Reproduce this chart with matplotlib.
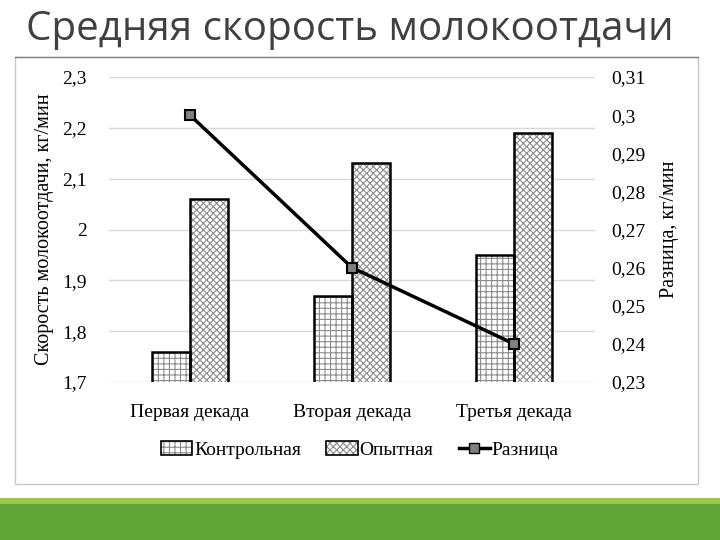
import matplotlib.pyplot as plt
from matplotlib.patches import Rectangle, Patch
from matplotlib.lines import Line2D
from matplotlib.ticker import FuncFormatter

categories = ['Первая декада', 'Вторая декада', 'Третья декада']
control = [1.76, 1.87, 1.95]
experimental = [2.06, 2.13, 2.19]
difference = [0.30, 0.26, 0.24]
left_ticks = [1.7, 1.8, 1.9, 2.0, 2.1, 2.2, 2.3]
right_ticks = [0.23, 0.24, 0.25, 0.26, 0.27, 0.28, 0.29, 0.30, 0.31]

serif = 'Liberation Serif'
plt.rcParams['hatch.linewidth'] = 0.8

fig = plt.figure(figsize=(7.2, 5.4), dpi=100)

# slide background pieces
fig.patches.append(Rectangle((15 / 720, 1 - 484 / 540), 683 / 720, 427 / 540,
                             transform=fig.transFigure, fill=False,
                             edgecolor='#c8c8c8', lw=1, zorder=0))
fig.add_artist(Line2D([15 / 720, 698 / 720], [1 - 57 / 540, 1 - 57 / 540],
                      transform=fig.transFigure, color='#7f7f7f', lw=1))
fig.patches.append(Rectangle((0, 1 - 504 / 540), 1, 6 / 540, transform=fig.transFigure,
                             facecolor='#9bc848', edgecolor='none'))
fig.patches.append(Rectangle((0, 0), 1, 36 / 540, transform=fig.transFigure,
                             facecolor='#62a537', edgecolor='none'))

fig.text(26 / 720, 1 - 30 / 540, 'Средняя скорость молокоотдачи', fontsize=29,
         family='Open Sans', color='#404040', va='center', ha='left')

ax = fig.add_axes([109 / 720, 1 - 382 / 540, 486 / 720, 305 / 540])
ax2 = ax.twinx()

x = range(len(categories))
w = 0.235
xc = [i - w / 2 for i in x]
xe = [i + w / 2 for i in x]

ax.bar(xc, control, w, color='white', edgecolor='#8c8c8c', hatch='+++', lw=0, zorder=2)
ax.bar(xc, control, w, fill=False, edgecolor='black', lw=1.8, zorder=3)
ax.bar(xe, experimental, w, color='white', edgecolor='#8c8c8c', hatch='xxxxx', lw=0, zorder=2)
ax.bar(xe, experimental, w, fill=False, edgecolor='black', lw=1.8, zorder=3)

ax2.plot(x, difference, color='black', lw=2.5, marker='s', markersize=7,
         markerfacecolor='#808080', markeredgecolor='black', markeredgewidth=1.5)

ax.set_xlim(-0.5, 2.5)
ax.set_ylim(1.7, 2.3)
ax2.set_ylim(0.23, 0.31)
ax.set_yticks(left_ticks)
ax2.set_yticks(right_ticks)

comma = FuncFormatter(lambda v, p: f'{v:.2f}'.rstrip('0').rstrip('.').replace('.', ','))
ax.yaxis.set_major_formatter(comma)
ax2.yaxis.set_major_formatter(comma)
ax.set_xticks(list(x))
ax.set_xticklabels(categories)

ax.grid(axis='y', color='#d9d9d9', lw=1, zorder=0)
ax.set_axisbelow(True)
for a in (ax, ax2):
    for s in a.spines.values():
        s.set_visible(False)
    a.tick_params(length=0, labelsize=14)
    for lbl in a.get_xticklabels() + a.get_yticklabels():
        lbl.set_family(serif)
ax.tick_params(axis='y', pad=16)
ax.tick_params(axis='x', pad=16)
ax2.tick_params(axis='y', pad=12)

ax.set_ylabel('Скорость молокоотдачи, кг/мин', family=serif, fontsize=14.5)
ax2.set_ylabel('Разница, кг/мин', family=serif, fontsize=14.5)
ax.yaxis.set_label_coords(-0.113, 0.5)
ax2.yaxis.set_label_coords(1.134, 0.5)

handles = [
    (Patch(facecolor='white', edgecolor='#8c8c8c', hatch='+++', lw=0),
     Patch(fill=False, edgecolor='black', lw=1.2)),
    (Patch(facecolor='white', edgecolor='#8c8c8c', hatch='xxxxx', lw=0),
     Patch(fill=False, edgecolor='black', lw=1.2)),
    Line2D([], [], color='black', lw=2.5, marker='s', markersize=7,
           markerfacecolor='#808080', markeredgecolor='black'),
]
fig.legend(handles, ['Контрольная', 'Опытная', 'Разница'], loc='center',
           bbox_to_anchor=(360 / 720, 1 - 450 / 540), ncol=3, frameon=False,
           prop={'family': serif, 'size': 14}, handlelength=1.6, handletextpad=0.1,
           columnspacing=1.3)

fig.savefig('out.png', dpi=100)
